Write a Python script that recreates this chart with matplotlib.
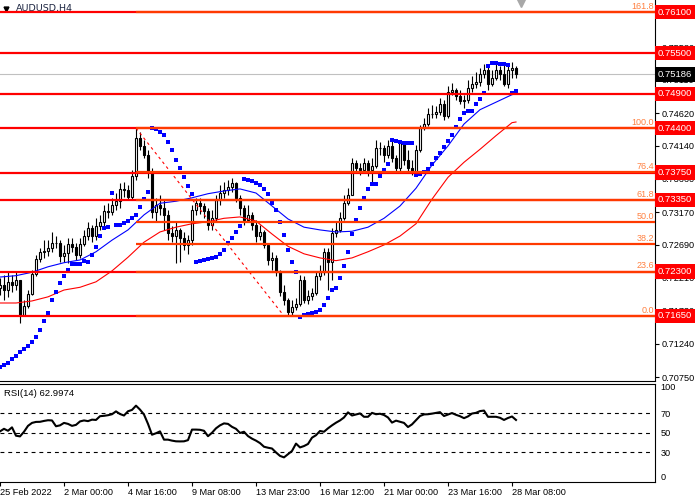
"""AUDUSD H4 chart with MAs, parabolic SAR, Fibonacci levels and RSI(14)."""

import numpy as np
import matplotlib
matplotlib.use("Agg")
import matplotlib.pyplot as plt

plt.rcParams['font.family'] = ['Liberation Sans', 'DejaVu Sans']

# ---- candle data (one value per H4 bar, bar 0 is the left edge) ----
open0 = 0.7206
closes = [
    0.7210, 0.7203, 0.7215, 0.7210, 0.7218, 0.7166, 0.7180, 0.7197, 0.7226, 0.7248,
    0.7259, 0.7260, 0.7265, 0.7272, 0.7272, 0.7253, 0.7257, 0.7270, 0.7266, 0.7254,
    0.7270, 0.7282, 0.7294, 0.7282, 0.7297, 0.7303, 0.7319, 0.7317, 0.7327, 0.7333,
    0.7351, 0.7349, 0.7339, 0.7370, 0.7426, 0.7414, 0.7401, 0.7376, 0.7317, 0.7327,
    0.7323, 0.7313, 0.7286, 0.7282, 0.7291, 0.7279, 0.7269, 0.7276, 0.7320, 0.7330,
    0.7326, 0.7319, 0.7298, 0.7308, 0.7335, 0.7345, 0.7349, 0.7354, 0.7360, 0.7338,
    0.7323, 0.7306, 0.7313, 0.7298, 0.7282, 0.7288, 0.7269, 0.7247, 0.7250, 0.7229,
    0.7200, 0.7188, 0.7171, 0.7178, 0.7183, 0.7218, 0.7188, 0.7194, 0.7199, 0.7224,
    0.7229, 0.7259, 0.7244, 0.7286, 0.7291, 0.7308, 0.7330, 0.7342, 0.7389, 0.7382,
    0.7379, 0.7389, 0.7379, 0.7385, 0.7411, 0.7411, 0.7401, 0.7414, 0.7396, 0.7382,
    0.7418, 0.7393, 0.7382, 0.7376, 0.7408, 0.7440, 0.7446, 0.7461, 0.7461, 0.7464,
    0.7475, 0.7458, 0.7493, 0.7496, 0.7487, 0.7480, 0.7481, 0.7499, 0.7505, 0.7508,
    0.7519, 0.7525, 0.7505, 0.7513, 0.7525, 0.7519, 0.7505, 0.7525, 0.7528, 0.75186,
]
highs = [
    0.7221, 0.7225, 0.7229, 0.7225, 0.7229, 0.7218, 0.7188, 0.7203, 0.7232, 0.7254,
    0.7265, 0.7276, 0.7276, 0.7288, 0.7282, 0.7276, 0.7269, 0.7279, 0.7279, 0.7272,
    0.7279, 0.7291, 0.7303, 0.7298, 0.7308, 0.7313, 0.7327, 0.7330, 0.7338, 0.7345,
    0.7360, 0.7361, 0.7357, 0.7379, 0.7440, 0.7434, 0.7423, 0.7408, 0.7382, 0.7338,
    0.7342, 0.7335, 0.7320, 0.7297, 0.7303, 0.7294, 0.7288, 0.7284, 0.7327, 0.7338,
    0.7338, 0.7330, 0.7323, 0.7320, 0.7342, 0.7357, 0.7361, 0.7364, 0.7367, 0.7361,
    0.7342, 0.7327, 0.7327, 0.7317, 0.7306, 0.7298, 0.7291, 0.7272, 0.7259, 0.7254,
    0.7232, 0.7210, 0.7191, 0.7188, 0.7191, 0.7225, 0.7224, 0.7203, 0.7206, 0.7229,
    0.7240, 0.7265, 0.7265, 0.7294, 0.7303, 0.7317, 0.7342, 0.7352, 0.7396, 0.7393,
    0.7389, 0.7396, 0.7393, 0.7396, 0.7423, 0.7420, 0.7415, 0.7423, 0.7423, 0.7401,
    0.7423, 0.7420, 0.7408, 0.7393, 0.7415, 0.7445, 0.7455, 0.7469, 0.7474, 0.7472,
    0.7484, 0.7481, 0.7502, 0.7506, 0.7499, 0.7496, 0.7489, 0.7510, 0.7516, 0.7522,
    0.7528, 0.7534, 0.7531, 0.7525, 0.7534, 0.7531, 0.7535, 0.7534, 0.7537, 0.7531,
]
lows = [
    0.7196, 0.7188, 0.7193, 0.7200, 0.7203, 0.7155, 0.7171, 0.7177, 0.7196, 0.7224,
    0.7244, 0.7250, 0.7253, 0.7259, 0.7265, 0.7244, 0.7244, 0.7243, 0.7259, 0.7247,
    0.7250, 0.7267, 0.7276, 0.7273, 0.7276, 0.7291, 0.7294, 0.7308, 0.7313, 0.7320,
    0.7323, 0.7339, 0.7335, 0.7335, 0.7364, 0.7408, 0.7396, 0.7367, 0.7308, 0.7303,
    0.7313, 0.7291, 0.7276, 0.7273, 0.7243, 0.7244, 0.7262, 0.7256, 0.7269, 0.7313,
    0.7314, 0.7308, 0.7291, 0.7291, 0.7303, 0.7327, 0.7338, 0.7342, 0.7347, 0.7332,
    0.7313, 0.7298, 0.7303, 0.7291, 0.7273, 0.7276, 0.7265, 0.7240, 0.7232, 0.7224,
    0.7194, 0.7181, 0.7165, 0.7165, 0.7174, 0.7180, 0.7184, 0.7183, 0.7188, 0.7196,
    0.7218, 0.7225, 0.7203, 0.7218, 0.7281, 0.7288, 0.7306, 0.7327, 0.7342, 0.7376,
    0.7371, 0.7376, 0.7370, 0.7360, 0.7382, 0.7401, 0.7390, 0.7396, 0.7390, 0.7376,
    0.7376, 0.7386, 0.7376, 0.7371, 0.7371, 0.7405, 0.7437, 0.7443, 0.7455, 0.7455,
    0.7459, 0.7452, 0.7455, 0.7489, 0.7481, 0.7475, 0.7469, 0.7477, 0.7493, 0.7499,
    0.7502, 0.7513, 0.7496, 0.7502, 0.7510, 0.7510, 0.7502, 0.7499, 0.7513, 0.7513,
]

# parabolic SAR, one dot per bar
sar = [
    0.7090, 0.7093, 0.7096, 0.7102, 0.7106, 0.7112, 0.7117, 0.7121, 0.7127, 0.7134,
    0.7145, 0.7158, 0.7169, 0.7188, 0.7200, 0.7213, 0.7224, 0.7232, 0.7241, 0.7241,
    0.7241, 0.7246, 0.7244, 0.7254, 0.7266, 0.7282, 0.7294, 0.7295, 0.7345, 0.7298,
    0.7298, 0.7301, 0.7304, 0.7308, 0.7313, 0.7325, 0.7336, 0.7347, 0.7440, 0.7439,
    0.7434, 0.7430, 0.7420, 0.7408, 0.7393, 0.7382, 0.7368, 0.7355, 0.7344, 0.7244,
    0.7246, 0.7247, 0.7248, 0.7250, 0.7251, 0.7256, 0.7262, 0.7272, 0.7279, 0.7288,
    0.7297, 0.7366, 0.7364, 0.7363, 0.7360, 0.7357, 0.7351, 0.7344, 0.7330, 0.7320,
    0.7303, 0.7284, 0.7262, 0.7244, 0.7229, 0.7164, 0.7166, 0.7168, 0.7169, 0.7171,
    0.7174, 0.7181, 0.7191, 0.7203, 0.7206, 0.7221, 0.7238, 0.7259, 0.7285, 0.7306,
    0.7323, 0.7338, 0.7351, 0.7358, 0.7358, 0.7370, 0.7379, 0.7388, 0.7423, 0.7421,
    0.7420, 0.7418, 0.7418, 0.7418, 0.7371, 0.7373, 0.7376, 0.7380, 0.7388, 0.7396,
    0.7404, 0.7412, 0.7421, 0.7430, 0.7442, 0.7453, 0.7462, 0.7465, 0.7465, 0.7475,
    0.7483, 0.7491, 0.7531, 0.7535, 0.7535, 0.7534, 0.7534, 0.7532, 0.7491, 0.7494,
]

# moving averages read every 4th bar
ma_bars = [0, 4, 8, 12, 16, 20, 24, 28, 32, 36, 40, 44, 48, 52, 56, 60, 64,
           68, 72, 76, 80, 84, 88, 92, 96, 100, 104, 108, 112, 116, 120, 124, 128, 129]
ma_fast = [0.7222, 0.7224, 0.7229, 0.7237, 0.7243, 0.7247, 0.7259, 0.7276, 0.7291,
           0.7313, 0.7330, 0.7333, 0.7338, 0.7344, 0.7348, 0.7351, 0.7345, 0.7326,
           0.7307, 0.7295, 0.7291, 0.7288, 0.7289, 0.7295, 0.7308, 0.7326, 0.7352,
           0.7386, 0.7414, 0.7446, 0.7467, 0.7478, 0.7489, 0.7490]
ma_slow = [0.7184, 0.7184, 0.7187, 0.7193, 0.7203, 0.7207, 0.7215, 0.7231, 0.7251,
           0.7273, 0.7288, 0.7295, 0.7300, 0.7303, 0.7308, 0.7310, 0.7304, 0.7285,
           0.7267, 0.7256, 0.7250, 0.7246, 0.7250, 0.7259, 0.7269, 0.7282, 0.7300,
           0.7336, 0.7368, 0.7390, 0.7409, 0.7429, 0.7448, 0.7449]

rsi = [
    51.4, 54.0, 52.0, 55.5, 47.0, 46.3, 51.0, 57.0, 60.0, 61.0,
    61.1, 62.0, 62.7, 62.5, 56.6, 57.5, 60.0, 59.0, 57.0, 58.0,
    61.5, 62.5, 61.8, 63.3, 63.0, 66.8, 67.2, 67.8, 68.8, 71.7,
    69.0, 67.5, 71.8, 73.2, 77.5, 73.5, 68.5, 59.0, 48.0, 49.5,
    51.4, 43.0, 43.0, 42.0, 41.3, 41.2, 41.3, 42.5, 53.2, 53.2,
    53.0, 52.0, 46.5, 50.0, 54.5, 57.5, 59.5, 59.0, 56.0, 54.0,
    49.8, 51.0, 46.6, 44.0, 42.0, 39.5, 35.8, 34.8, 34.0, 30.0,
    26.5, 25.0, 28.3, 31.5, 39.0, 35.1, 36.5, 38.6, 45.0, 47.5,
    51.8, 51.0, 54.5, 57.5, 60.2, 62.5, 65.5, 70.7, 67.5, 68.5,
    69.6, 66.2, 66.2, 70.2, 68.8, 69.3, 68.0, 65.5, 60.3, 62.3,
    61.1, 60.0, 55.8, 58.5, 62.8, 67.0, 68.6, 68.8, 69.4, 70.2,
    70.9, 67.0, 68.5, 70.0, 68.2, 66.8, 64.8, 66.6, 69.5, 70.2,
    72.0, 72.5, 66.2, 66.2, 66.2, 65.2, 63.0, 65.0, 66.5, 62.9974,
]

# horizontal support / resistance levels and Fibonacci anchors
levels = [0.7610, 0.7550, 0.7490, 0.7440, 0.7375, 0.7335, 0.7230, 0.7165]
fib_high, fib_low = 0.7440, 0.7165
fib_bar_high, fib_bar_low = 34, 71
fib_ratios = [161.8, 100.0, 76.4, 61.8, 50.0, 38.2, 23.6, 0.0]
bid = 0.75186

price_ticks = [0.70750, 0.71240, 0.71730, 0.72210, 0.72690, 0.73170,
               0.73660, 0.74140, 0.74620, 0.75110, 0.75580, 0.76060]
date_labels = ["25 Feb 2022", "2 Mar 00:00", "4 Mar 16:00", "9 Mar 08:00",
               "13 Mar 23:00", "16 Mar 12:00", "21 Mar 00:00", "23 Mar 16:00",
               "28 Mar 08:00"]


def draw_candles(ax, x, opens, closes, highs, lows):
    """Draw MT4 style candles: white bull bodies, black bear bodies."""
    highs = np.maximum(highs, np.maximum(opens, closes))
    lows = np.minimum(lows, np.minimum(opens, closes))
    ax.vlines(x, lows, highs, color="black", lw=0.8, zorder=2)
    up = closes >= opens
    for mask, fc in ((up, "white"), (~up, "black")):
        ax.bar(x[mask], (closes - opens)[mask], bottom=opens[mask], width=0.6,
               facecolor=fc, edgecolor="black", linewidth=0.8, zorder=3)


def price_box(ax, value, colour):
    """Coloured price label on the right scale."""
    ax.text(1.004, value, f"{value:.5f}", transform=ax.get_yaxis_transform(),
            ha="left", va="center", color="white", fontsize=6.8, zorder=10,
            clip_on=False,
            bbox=dict(boxstyle="square,pad=0.28", fc=colour, ec="none"))


def main() -> None:
    c = np.array(closes)
    o = np.concatenate([[open0], c[:-1]])
    x = np.arange(len(c))

    fig = plt.figure(figsize=(7, 5), dpi=100)
    right = 655 / 700
    ax = fig.add_axes([0, 1 - 381 / 500, right, 381 / 500])
    ax_rsi = fig.add_axes([0, 1 - 482 / 500, right, 98.5 / 500])

    x_max = 655 / 4
    ax.set_xlim(0, x_max)
    ax.set_ylim(0.70698, 0.76276)

    ax.axhline(bid, color="#C0C0C0", lw=0.8, zorder=1)
    draw_candles(ax, x, o, c, np.array(highs), np.array(lows))
    ax.plot(ma_bars, ma_slow, color="#FF0000", lw=0.8, zorder=4)
    ax.plot(ma_bars, ma_fast, color="#0000FF", lw=0.8, zorder=4)
    ax.plot(x, sar, "s", color="#0000FF", ms=2.4, mew=0, zorder=5)

    # Fibonacci retracement
    ax.plot([fib_bar_high, fib_bar_low], [fib_high, fib_low], color="#FF0000",
            lw=0.8, linestyle=(0, (2.5, 3)), zorder=6)
    for lvl in levels:
        ax.axhline(lvl, color="#FF0000", lw=1.6, zorder=7)
    for r in fib_ratios:
        lvl = fib_low + r / 100 * (fib_high - fib_low)
        ax.hlines(lvl, fib_bar_high, x_max, color="#FF3A00", lw=1.6, zorder=8)
        ax.text(x_max - 0.3, lvl + 0.0002, f"{r:.1f}", color="#FF8040",
                fontsize=6.5, ha="right", va="bottom", zorder=9)

    # right price scale
    ax.yaxis.tick_right()
    ax.set_yticks(price_ticks)
    ax.set_yticklabels([f"{t:.5f}" for t in price_ticks])
    ax.tick_params(axis="y", length=3, width=0.8, pad=2, labelsize=6.6)
    ax.set_xticks([])
    for lvl in levels:
        price_box(ax, lvl, "#FF0000")
    price_box(ax, bid, "black")

    for s in ("top", "left"):
        ax.spines[s].set_visible(False)
    for s in ("right", "bottom"):
        ax.spines[s].set_linewidth(0.8)

    # title and chart shift marker
    ax.plot([6 / 655], [1 - 9 / 381], "v", color="black", ms=3.5,
            transform=ax.transAxes, clip_on=False)
    ax.text(16 / 655, 1 - 8 / 381, "AUDUSD,H4", transform=ax.transAxes,
            fontsize=6.8, color="#1b2440", va="center", ha="left",
            family="DejaVu Sans")
    ax.plot([130.2], [0.7623], "v", color="#A8A8A8", ms=6, clip_on=False)

    # RSI pane
    ax_rsi.set_xlim(0, x_max)
    ax_rsi.set_ylim(0, 100)
    for lvl in (70, 50, 30):
        ax_rsi.hlines(lvl, 0, x_max - 0.5, color="black", lw=0.8,
                      linestyle=(0, (3.5, 3.5)))
    ax_rsi.plot(x, rsi, color="black", lw=1.5)
    ax_rsi.text(4 / 655, 0.9, f"RSI(14) {rsi[-1]:.4f}", transform=ax_rsi.transAxes,
                fontsize=6.8, va="center", ha="left")
    ax_rsi.yaxis.tick_right()
    ax_rsi.set_yticks([0, 30, 50, 70, 100])
    ax_rsi.set_yticklabels(["0", "30", "50", "70", "100"])
    ax_rsi.tick_params(axis="y", length=0, pad=4, labelsize=6.6)
    labs = ax_rsi.get_yticklabels()
    labs[0].set_va("bottom")
    labs[-1].set_va("top")
    ax_rsi.set_xticks(np.arange(len(date_labels)) * 16)
    ax_rsi.set_xticklabels(date_labels, ha="left")
    ax_rsi.tick_params(axis="x", length=3, width=0.8, pad=1.5, labelsize=6.6)
    ax_rsi.spines["left"].set_visible(False)
    for s in ("top", "right", "bottom"):
        ax_rsi.spines[s].set_linewidth(0.8)

    fig.savefig("out.png", dpi=100, facecolor="white")


if __name__ == "__main__":
    main()
